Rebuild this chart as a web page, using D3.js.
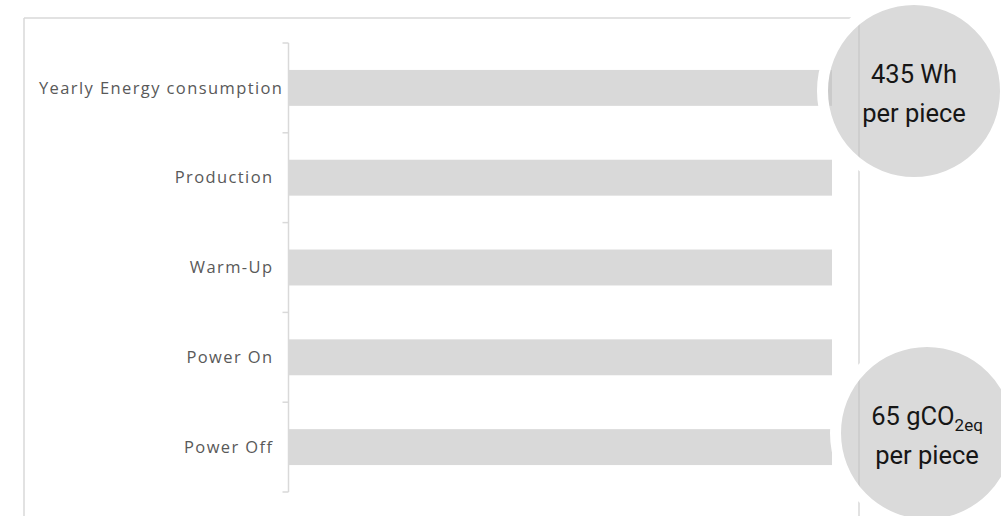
<!DOCTYPE html>
<html>
<head>
<meta charset="utf-8">
<script src="https://cdn.jsdelivr.net/npm/d3@7"></script>
<style>
  html, body { margin: 0; padding: 0; background: #ffffff; }
  svg { display: block; }
</style>
</head>
<body>
<svg id="chart" width="1001" height="516"></svg>
<script>
// Phases of the machine, top to bottom
const categories = ["Yearly Energy consumption", "Production", "Warm-Up", "Power On", "Power Off"];
// Share of each phase (percent of the full bar)
const values = [100, 100, 100, 100, 100];
// Per-piece totals shown in the callout bubbles
const energyPerPiece = 435;   // Wh
const co2PerPiece = 65;       // gCO2eq

const W = 1001, H = 516;
const svg = d3.select("#chart");

const frame = { left: 24, top: 18, right: 859 };
const plot = { left: 289, right: 832, top: 43, bottom: 492 };
const grey = "#d9d9d9";

const x = d3.scaleLinear().domain([0, 100]).range([plot.left, plot.right]);
const y = d3.scaleBand().domain(categories).range([plot.top, plot.bottom])
  .paddingInner(0.6).paddingOuter(0.3);

// Outer frame
const frameG = svg.append("g").attr("stroke", grey).attr("stroke-width", 1.5).attr("fill", "none");
frameG.append("line").attr("x1", frame.left).attr("x2", frame.right).attr("y1", frame.top).attr("y2", frame.top);
frameG.append("line").attr("x1", frame.left).attr("x2", frame.left).attr("y1", frame.top).attr("y2", H + 2);
frameG.append("line").attr("x1", frame.right).attr("x2", frame.right).attr("y1", frame.top).attr("y2", H + 2);

// Bars
svg.append("g").selectAll("rect").data(categories).join("rect")
  .attr("x", x(0))
  .attr("y", d => y(d))
  .attr("width", (d, i) => x(values[i]) - x(0))
  .attr("height", y.bandwidth())
  .attr("fill", grey);

// Category axis: line with ticks on the band boundaries
const axisX = x(0) - 0.5;
const axisG = svg.append("g").attr("stroke", grey).attr("stroke-width", 1.5);
axisG.append("line").attr("x1", axisX).attr("x2", axisX)
  .attr("y1", y.range()[0]).attr("y2", y.range()[1]);
const bounds = d3.range(categories.length + 1).map(i => y.range()[0] + i * y.step());
axisG.selectAll("line.tick").data(bounds).join("line").attr("class", "tick")
  .attr("x1", axisX - 6).attr("x2", axisX).attr("y1", d => d).attr("y2", d => d);

// Category labels, right-aligned; long labels are kept inside the frame
const labelEnd = axisX - 15;
const minStart = frame.left + 15;
const labels = svg.append("g").selectAll("text").data(categories).join("text")
  .attr("x", labelEnd)
  .attr("y", d => y(d) + y.bandwidth() / 2)
  .attr("dy", "0.35em")
  .attr("text-anchor", "end")
  .attr("font-family", "'Open Sans', sans-serif")
  .attr("font-size", 16.5)
  .attr("letter-spacing", 1.4)
  .attr("fill", "#595959")
  .text(d => d);
labels.each(function () {
  const w = this.getComputedTextLength();
  if (labelEnd - w < minStart) d3.select(this).attr("x", minStart + w);
});

// Callout bubbles
const bubbles = [
  { cx: 914, cy: 91, lines: [[{ t: energyPerPiece + " Wh" }], [{ t: "per piece" }]] },
  { cx: 927, cy: 433, lines: [[{ t: co2PerPiece + " gCO" }, { t: "2eq", sub: true }], [{ t: "per piece" }]] }
];
const r = 86, gap = 11;
bubbles.forEach(b => {
  const g = svg.append("g");
  g.append("circle").attr("cx", b.cx).attr("cy", b.cy).attr("r", r + gap / 2)
    .attr("fill", "#c0c0c0").attr("fill-opacity", 0.58)
    .attr("stroke", "#ffffff").attr("stroke-width", gap);
  const t = g.append("text")
    .attr("text-anchor", "middle")
    .attr("font-family", "Roboto, sans-serif")
    .attr("font-size", 25.5)
    .attr("fill", "#161616");
  b.lines.forEach((ln, i) => {
    const ts = t.append("tspan").attr("x", b.cx).attr("y", b.cy + (i === 0 ? -8 : 31));
    ln.forEach(part => {
      const s = part.sub ? ts.append("tspan").attr("font-size", 17).attr("dy", 6) : ts.append("tspan");
      s.text(part.t);
    });
  });
});
</script>
</body>
</html>
